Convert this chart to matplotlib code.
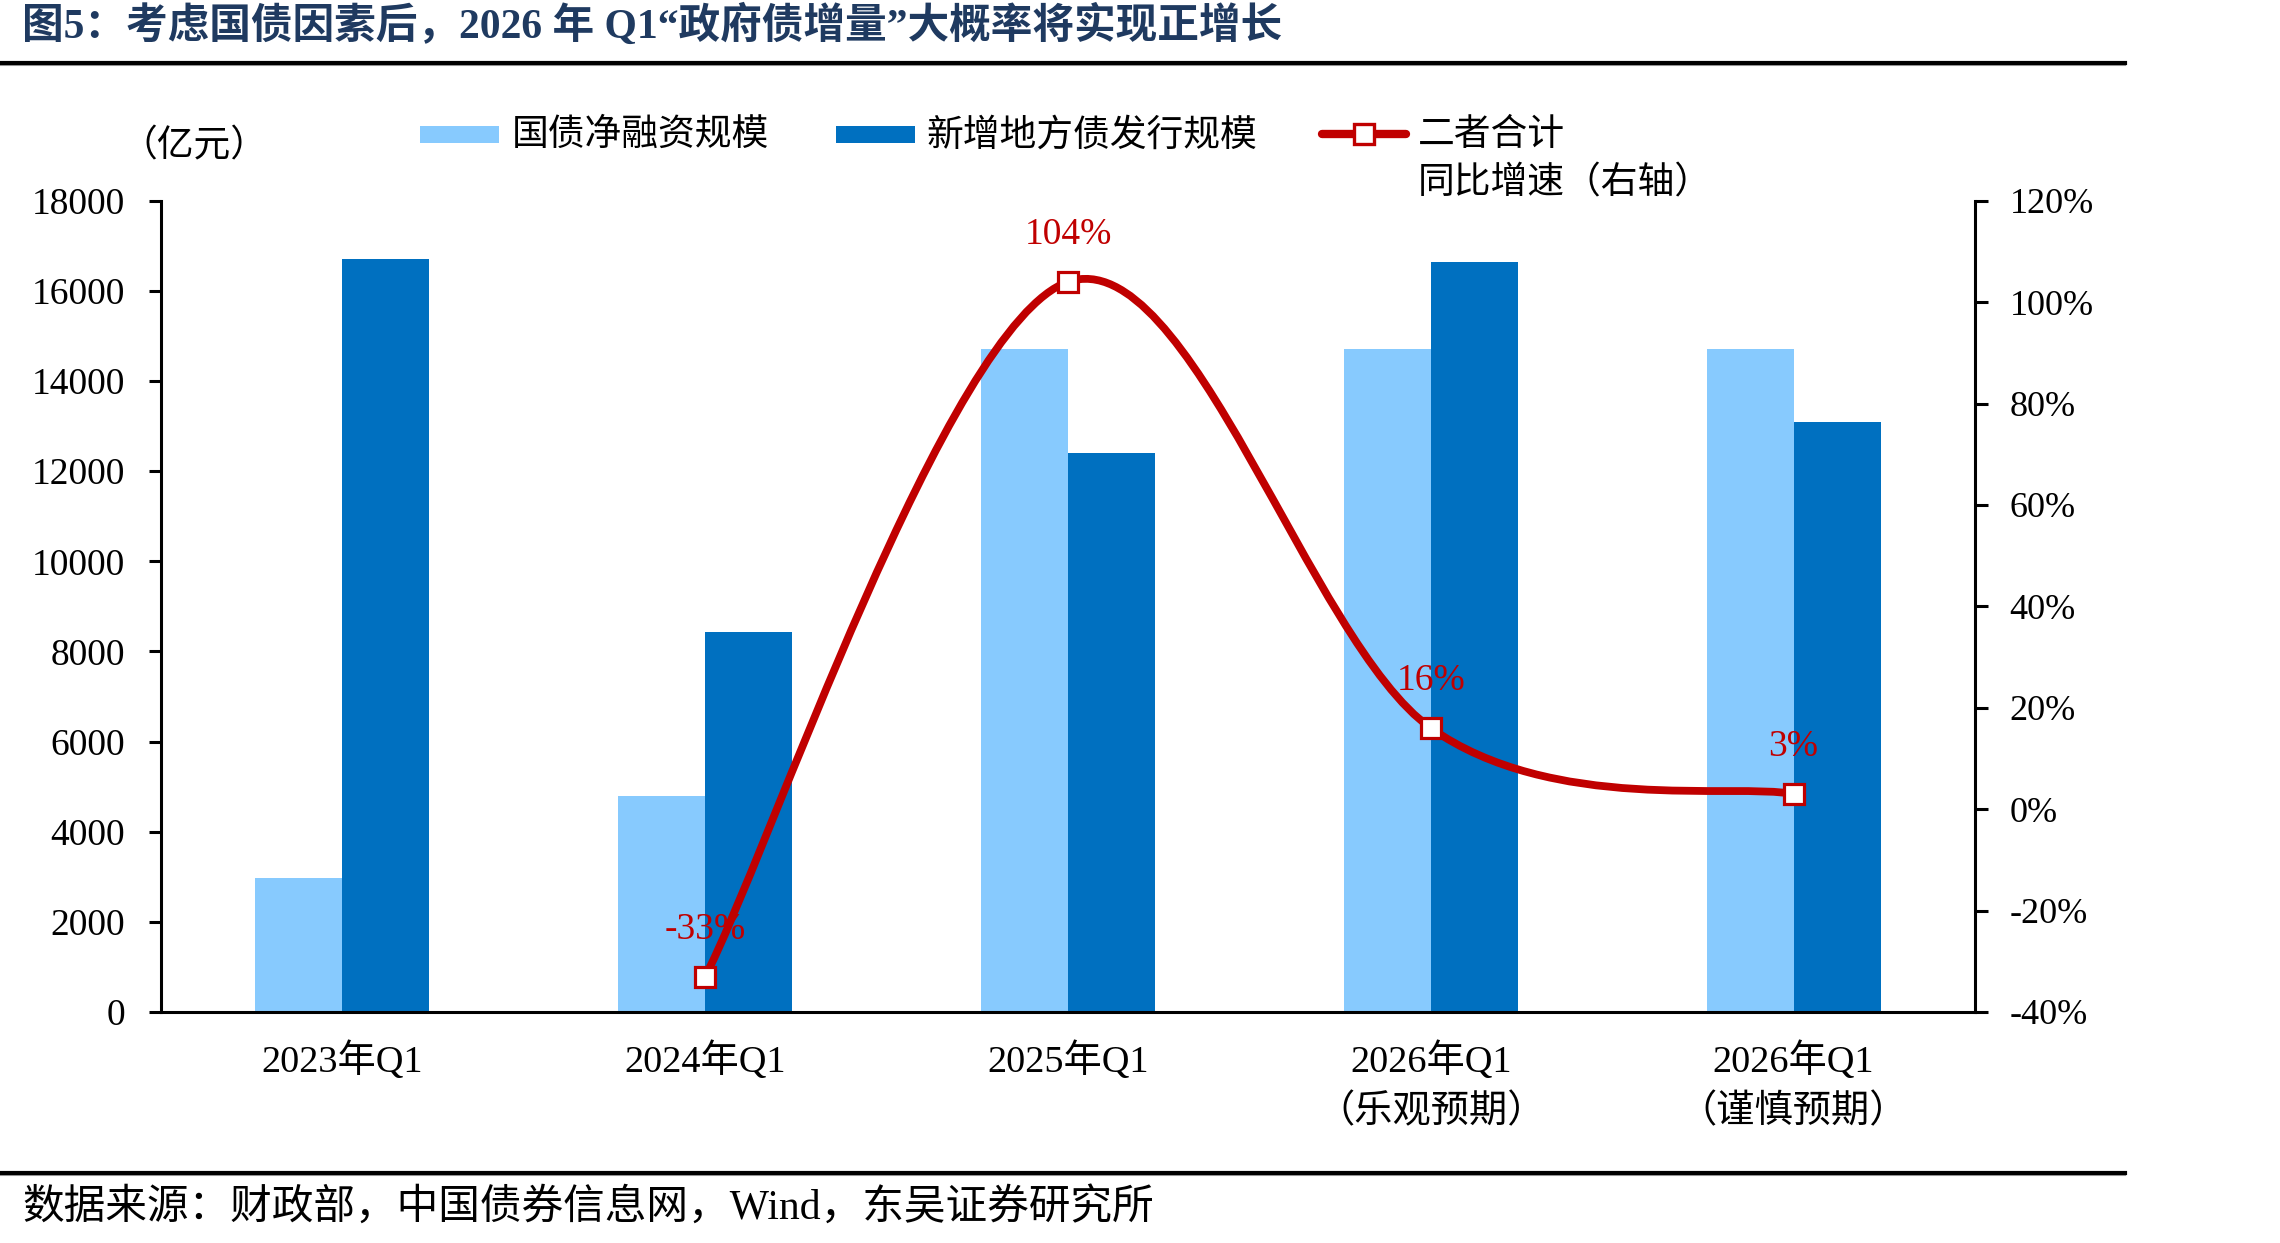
import numpy as np
import matplotlib
matplotlib.use("Agg")
import matplotlib.pyplot as plt
from matplotlib.path import Path
from matplotlib.patches import PathPatch, Rectangle
from matplotlib.lines import Line2D

plt.rcParams['font.family'] = ['Liberation Serif', 'Noto Sans CJK SC', 'DejaVu Sans']

# ---------------- data ----------------
categories = ["2023年Q1", "2024年Q1", "2025年Q1", "2026年Q1\n（乐观预期）", "2026年Q1\n（谨慎预期）"]
treasury_net = [2980, 4800, 14700, 14700, 14700]        # 国债净融资规模
local_new = [16700, 8420, 12400, 16650, 13100]          # 新增地方债发行规模
growth_pct = [np.nan, -33, 104, 16, 3]                  # 二者合计同比增速（右轴）
growth_labels = ["", "-33%", "104%", "16%", "3%"]
left_ticks = [0, 2000, 4000, 6000, 8000, 10000, 12000, 14000, 16000, 18000]
right_ticks = [-40, -20, 0, 20, 40, 60, 80, 100, 120]

C_LIGHT = "#87CAFE"
C_DARK = "#0070C0"
C_RED = "#C00000"
C_TITLE = "#1F3A60"

W, H = 2280, 1243
fig = plt.figure(figsize=(W / 100, H / 100), dpi=100)

ax_l = 161 / W
ax_r = 1975 / W
ax_b = 1 - 1012 / H
ax_t = 1 - 200.7 / H
ax = fig.add_axes([ax_l, ax_b, ax_r - ax_l, ax_t - ax_b])
ax2 = ax.twinx()

x = np.arange(len(categories))
bw = 0.24
ax.bar(x - bw / 2, treasury_net, width=bw, color=C_LIGHT, zorder=2)
ax.bar(x + bw / 2, local_new, width=bw, color=C_DARK, zorder=2)

ax.set_xlim(-0.5, len(categories) - 0.5)
ax.set_ylim(0, 18000)
ax.set_yticks(left_ticks)
ax.set_yticklabels([str(t) for t in left_ticks])
ax.set_xticks(x)
ax.set_xticklabels(categories, linespacing=1.5)

ax2.set_ylim(-40, 120)
ax2.set_yticks(right_ticks)
ax2.set_yticklabels([f"{t}%" for t in right_ticks])

for a in (ax, ax2):
    a.spines['top'].set_visible(False)
    for s in ('left', 'right', 'bottom'):
        a.spines[s].set_linewidth(2.2)
        a.spines[s].set_color('black')
ax.spines['right'].set_visible(False)
ax2.spines['left'].set_visible(False)
ax2.spines['bottom'].set_visible(False)

ax.tick_params(axis='y', direction='out', length=9, width=2.2, labelsize=27, pad=17)
ax.tick_params(axis='x', length=0, labelsize=27.5, pad=21)
ax2.tick_params(axis='y', direction='out', length=9, width=2.2, labelsize=26, pad=16)

# smoothed line (Catmull-Rom style Bezier through the data points)
gx = np.array([xi for xi, g in zip(x, growth_pct) if not np.isnan(g)], dtype=float)
gy = np.array([g for g in growth_pct if not np.isnan(g)], dtype=float)
pts = np.column_stack([gx, gy])
n = len(pts)
verts = [tuple(pts[0])]
codes = [Path.MOVETO]
for i in range(n - 1):
    p0 = pts[i - 1] if i > 0 else pts[i]
    p1 = pts[i]
    p2 = pts[i + 1]
    p3 = pts[i + 2] if i + 2 < n else pts[i + 1]
    c1 = p1 + (p2 - p0) / 6.0
    c2 = p2 - (p3 - p1) / 6.0
    verts += [tuple(c1), tuple(c2), tuple(p2)]
    codes += [Path.CURVE4] * 3
curve = PathPatch(Path(verts, codes), facecolor='none', edgecolor=C_RED,
                  linewidth=5.6, capstyle='round', joinstyle='round', zorder=3)
ax2.add_patch(curve)
ax2.plot(gx, gy, linestyle='none', marker='s', markersize=15, markerfacecolor='white',
         markeredgecolor=C_RED, markeredgewidth=2.3, zorder=4)
for xi, g, lab in zip(x, growth_pct, growth_labels):
    if not np.isnan(g):
        ax2.annotate(lab, (xi, g), xytext=(0, 34), textcoords='offset points',
                     ha='center', va='center', fontsize=27, color=C_RED, zorder=5)

# ---------------- legend (manual) ----------------
def fx(px):
    return px / W

def fy(py):
    return 1 - py / H

fig.patches.append(Rectangle((fx(420), fy(143)), fx(499) - fx(420), fy(126) - fy(143),
                             transform=fig.transFigure, facecolor=C_LIGHT, edgecolor='none'))
fig.text(fx(512), fy(136), "国债净融资规模", fontsize=26.5, va='center', ha='left')
fig.patches.append(Rectangle((fx(836), fy(143)), fx(915) - fx(836), fy(126) - fy(143),
                             transform=fig.transFigure, facecolor=C_DARK, edgecolor='none'))
fig.text(fx(926), fy(136), "新增地方债发行规模", fontsize=26.5, va='center', ha='left')
fig.lines.append(Line2D([fx(1322), fx(1406)], [fy(134), fy(134)], transform=fig.transFigure,
                        color=C_RED, linewidth=6, solid_capstyle='round'))
fig.lines.append(Line2D([fx(1364)], [fy(134)], transform=fig.transFigure, marker='s',
                        markersize=15, markerfacecolor='white', markeredgecolor=C_RED,
                        markeredgewidth=2.4, linestyle='none'))
fig.text(fx(1418), fy(136), "二者合计", fontsize=26.5, va='center', ha='left')
fig.text(fx(1418), fy(184), "同比增速（右轴）", fontsize=26.5, va='center', ha='left')

fig.text(fx(194), fy(147), "（亿元）", fontsize=26.5, va='center', ha='center')

# ---------------- title, separators, source ----------------
fig.text(fx(22), fy(26), "图5：考虑国债因素后，2026 年 Q1“政府债增量”大概率将实现正增长",
         fontsize=30, fontweight='bold', color=C_TITLE, va='center', ha='left')
for yy in (63, 1173):
    fig.lines.append(Line2D([0, fx(2125)], [fy(yy + 2), fy(yy + 2)], transform=fig.transFigure,
                            color='#A0A0A0', linewidth=1.5))
    fig.lines.append(Line2D([0, fx(2125)], [fy(yy), fy(yy)], transform=fig.transFigure,
                            color='black', linewidth=3))
fig.text(fx(22), fy(1208), "数据来源：财政部，中国债券信息网，Wind，东吴证券研究所",
         fontsize=30, va='center', ha='left')

fig.savefig("out.png", dpi=100)
